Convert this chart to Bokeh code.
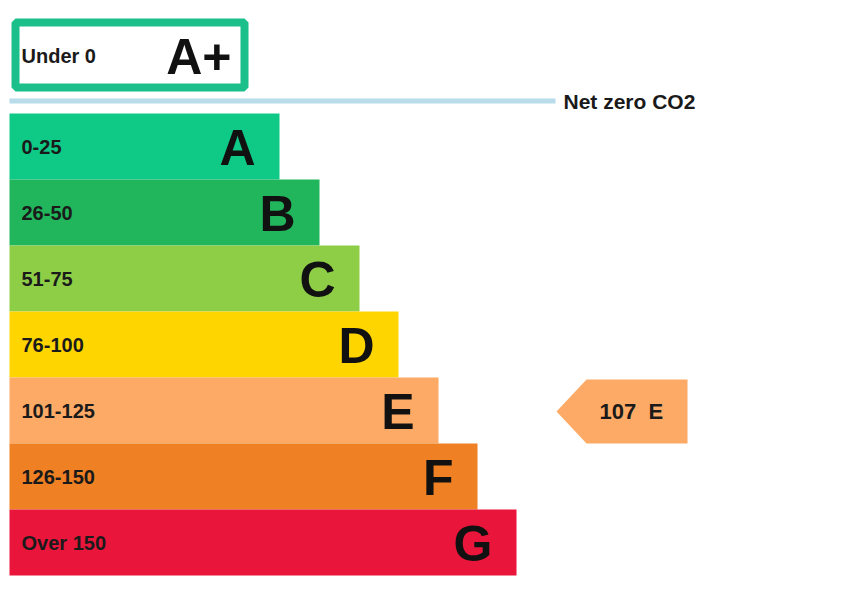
from bokeh.plotting import figure
from bokeh.models import Range1d
from bokeh.core.properties import value
from bokeh.embed import file_html
from bokeh.resources import INLINE

# ---- data ----
bands = ["A", "B", "C", "D", "E", "F", "G"]
band_ranges = ["0-25", "26-50", "51-75", "76-100", "101-125", "126-150", "Over 150"]
band_colors = ["#0fc986", "#21b65c", "#8dce46", "#ffd500", "#fcaa65", "#ef8023", "#e9153b"]
band_lengths = [270, 310, 350, 389, 429, 468, 507]  # bar length in px units
top_band = "A+"
top_range = "Under 0"
top_color = "#1bbf89"
net_zero_label = "Net zero CO2"
current_value = 107
current_band = "E"
current_color = "#fcaa65"

W, H = 842, 582
p = figure(width=W, height=H, output_backend="svg", toolbar_location=None,
           x_range=Range1d(0, W), y_range=Range1d(H, 0),
           min_border=0)
p.axis.visible = False
p.grid.visible = False
p.outline_line_color = None
p.background_fill_color = "white"
p.border_fill_color = "white"

FONT = value("Liberation Sans")
x0 = 9
bar_top = 113
bar_h = 66

tops = [bar_top + i * bar_h for i in range(len(bands))]
bottoms = [t + bar_h for t in tops]
rights = [x0 + L for L in band_lengths]
centers = [(t + b) / 2 for t, b in zip(tops, bottoms)]

p.quad(left=[x0] * len(bands), right=rights, top=tops, bottom=bottoms,
       fill_color=band_colors, line_color=None)

p.text(x=[x0 + 12] * len(bands), y=centers, text=band_ranges,
       text_font=FONT, text_font_style="bold", text_font_size="20px",
       text_color="#1a1a1a", text_align="left", text_baseline="middle")
p.text(x=[r - 24 for r in rights], y=[c + 1 for c in centers], text=bands,
       text_font=FONT, text_font_style="bold", text_font_size="50px",
       text_color="#111111", text_align="right", text_baseline="middle")

# A+ box
p.quad(left=[15], right=[244], top=[22], bottom=[87],
       fill_color="white", line_color=top_color, line_width=8)
p.text(x=[21], y=[55], text=[top_range], text_font=FONT, text_font_style="bold",
       text_font_size="20px", text_color="#1a1a1a", text_baseline="middle")
p.text(x=[231], y=[56], text=[top_band], text_font=FONT, text_font_style="bold",
       text_font_size="50px", text_color="#111111", text_align="right",
       text_baseline="middle")

# net zero line
p.line(x=[9, 555], y=[100.5, 100.5], line_color="#b8dcea", line_width=5)
p.text(x=[563], y=[100.5], text=[net_zero_label], text_font=FONT,
       text_font_style="bold", text_font_size="21px", text_color="#1a1a1a",
       text_baseline="middle")

# current rating arrow
ci = bands.index(current_band)
ay = centers[ci] + 1
p.patch(x=[556, 586, 687, 687, 586], y=[ay, ay - 32, ay - 32, ay + 32, ay + 32],
        fill_color=current_color, line_color=None)
p.text(x=[599], y=[ay], text=[f"{current_value}\u00a0\u00a0{current_band}"], text_font=FONT,
       text_font_style="bold", text_font_size="22px", text_color="#1a1a1a",
       text_align="left", text_baseline="middle")

open("out.html", "w").write(file_html(p, INLINE))
